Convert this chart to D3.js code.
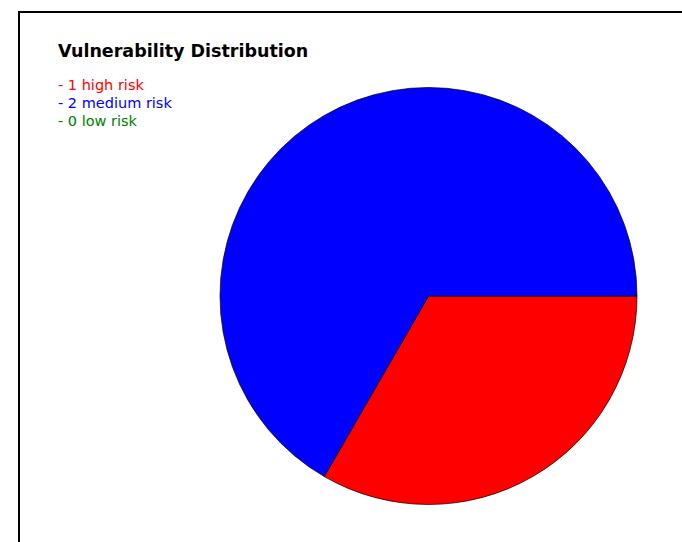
<!DOCTYPE html>
<html>
<head>
<meta charset="utf-8">
<script src="https://cdn.jsdelivr.net/npm/d3@7"></script>
<style>
  body { margin: 0; background: #fff; }
  svg { display: block; font-family: "DejaVu Sans", sans-serif; }
</style>
</head>
<body>
<div id="chart"></div>
<script>

// risk levels, counts and colours
var levels = ["high", "medium", "low"]
var counts = [1, 2, 0]
var colours = ["#ff0000", "#0000ff", "#008000"]

var width = 682, height = 542

var svg = d3.select("#chart").append("svg")
    .attr("width", width)
    .attr("height", height)

// frame, only its top and left edges fall inside the window
svg.append("rect")
    .attr("x", 19)
    .attr("y", 12)
    .attr("width", 800)
    .attr("height", 800)
    .attr("fill", "none")
    .attr("stroke", "#000")
    .attr("stroke-width", 2)

svg.append("text")
    .attr("x", 58)
    .attr("y", 57)
    .attr("font-size", 17.5)
    .attr("font-weight", "bold")
    .attr("fill", "#000")
    .text("Vulnerability Distribution")

svg.selectAll("text.legend")
    .data(levels)
    .enter().append("text")
    .attr("class", "legend")
    .attr("x", 58)
    .attr("y", (d, i) => 89.5 + i * 18)
    .attr("font-size", 14.5)
    .attr("fill", (d, i) => colours[i])
    .text((d, i) => "- " + counts[i] + " " + d + " risk")

var radius = 208.5

var pie = d3.pie()
    .sort(null)
    .startAngle(Math.PI / 2)
    .endAngle(Math.PI / 2 + 2 * Math.PI)
    .value(d => d.count)

var arc = d3.arc()
    .innerRadius(0)
    .outerRadius(radius)

var slices = levels.map((d, i) => ({ level: d, count: counts[i], colour: colours[i] }))
    .filter(d => d.count > 0)

var g = svg.append("g")
    .attr("transform", "translate(428.5,296)")

g.selectAll("path")
    .data(pie(slices))
    .enter().append("path")
    .attr("d", arc)
    .attr("fill", d => d.data.colour)
    .attr("stroke", "#000")
    .attr("stroke-width", 0.7)

</script>
</body>
</html>
